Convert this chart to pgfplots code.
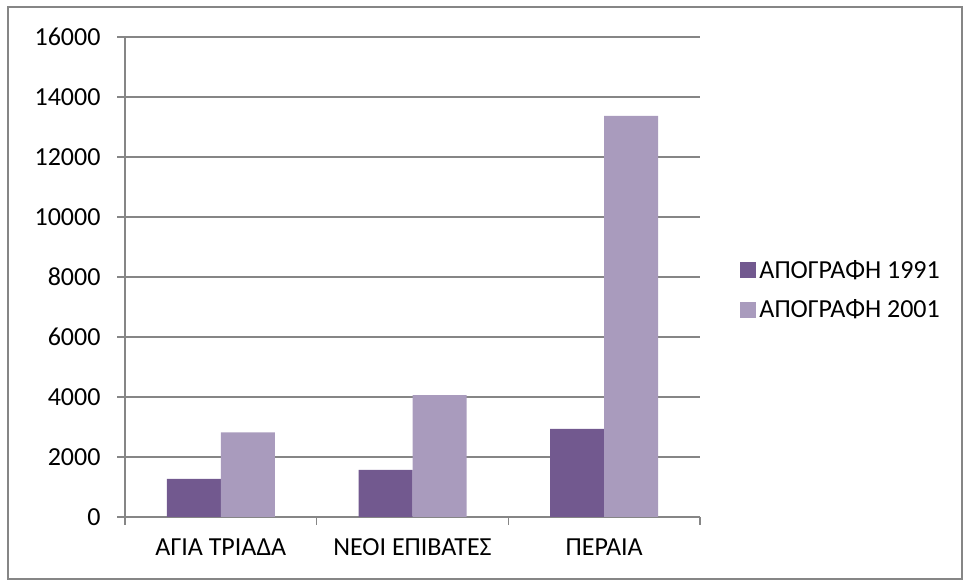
\documentclass[border=0pt]{standalone}
\usepackage{fontspec}
\setmainfont{Carlito}
\usepackage{pgfplots}
\pgfplotsset{compat=1.18}
\definecolor{cA}{RGB}{114,89,143}
\definecolor{cB}{RGB}{169,155,189}
\definecolor{gridc}{RGB}{134,134,134}
\begin{document}
\begin{tikzpicture}[x=1pt,y=1pt]
\useasboundingbox (0,0) rectangle (968,585);
\draw[gridc,line width=1.3pt] (8,6) rectangle (962,578);
\begin{axis}[
  at={(125pt,68pt)}, anchor=south west,
  scale only axis, width=575pt, height=480pt,
  ybar, bar width=54pt, ybar=0pt,
  xmin=-0.5, xmax=2.5, ymin=0, ymax=16000,
  axis lines*=left,
  axis line style={gridc,line width=1.2pt},
  xtick={0,1,2},
  xticklabels={ΑΓΙΑ ΤΡΙΑΔΑ, ΝΕΟΙ ΕΠΙΒΑΤΕΣ, ΠΕΡΑΙΑ},
  minor xtick={-0.5,0.5,1.5,2.5},
  ytick={0,2000,...,16000},
  tick align=outside,
  major x tick style={draw=none},
  minor tick length=8pt,
  major tick length=8pt,
  tick style={gridc,line width=1.2pt},
  ymajorgrids,
  grid style={gridc,line width=1.2pt},
  scaled y ticks=false,
  /pgf/number format/1000 sep={},
  /pgf/number format/assume math mode=true,
  ticklabel style={font=\fontsize{26}{30}\selectfont,text=black},
  yticklabel style={xshift=-13pt},
  xticklabel style={yshift=-10pt},
  legend style={draw=none,fill=none,
    font=\fontsize{26}{30}\selectfont, row sep=16pt,
    legend cell align=left, inner xsep=0pt,
    nodes={inner xsep=3pt},
    at={(1.07,0.473)}, anchor=west},
  legend image code/.code={\fill[#1] (0pt,-8pt) rectangle (16pt,8pt);},
  clip=false,
]
\addplot[fill=cA,draw=none] coordinates {(0,1270) (1,1570) (2,2940)};
\addplot[fill=cB,draw=none] coordinates {(0,2820) (1,4060) (2,13370)};
\legend{ΑΠΟΓΡΑΦΗ 1991, ΑΠΟΓΡΑΦΗ 2001}
\end{axis}
\end{tikzpicture}
\end{document}
